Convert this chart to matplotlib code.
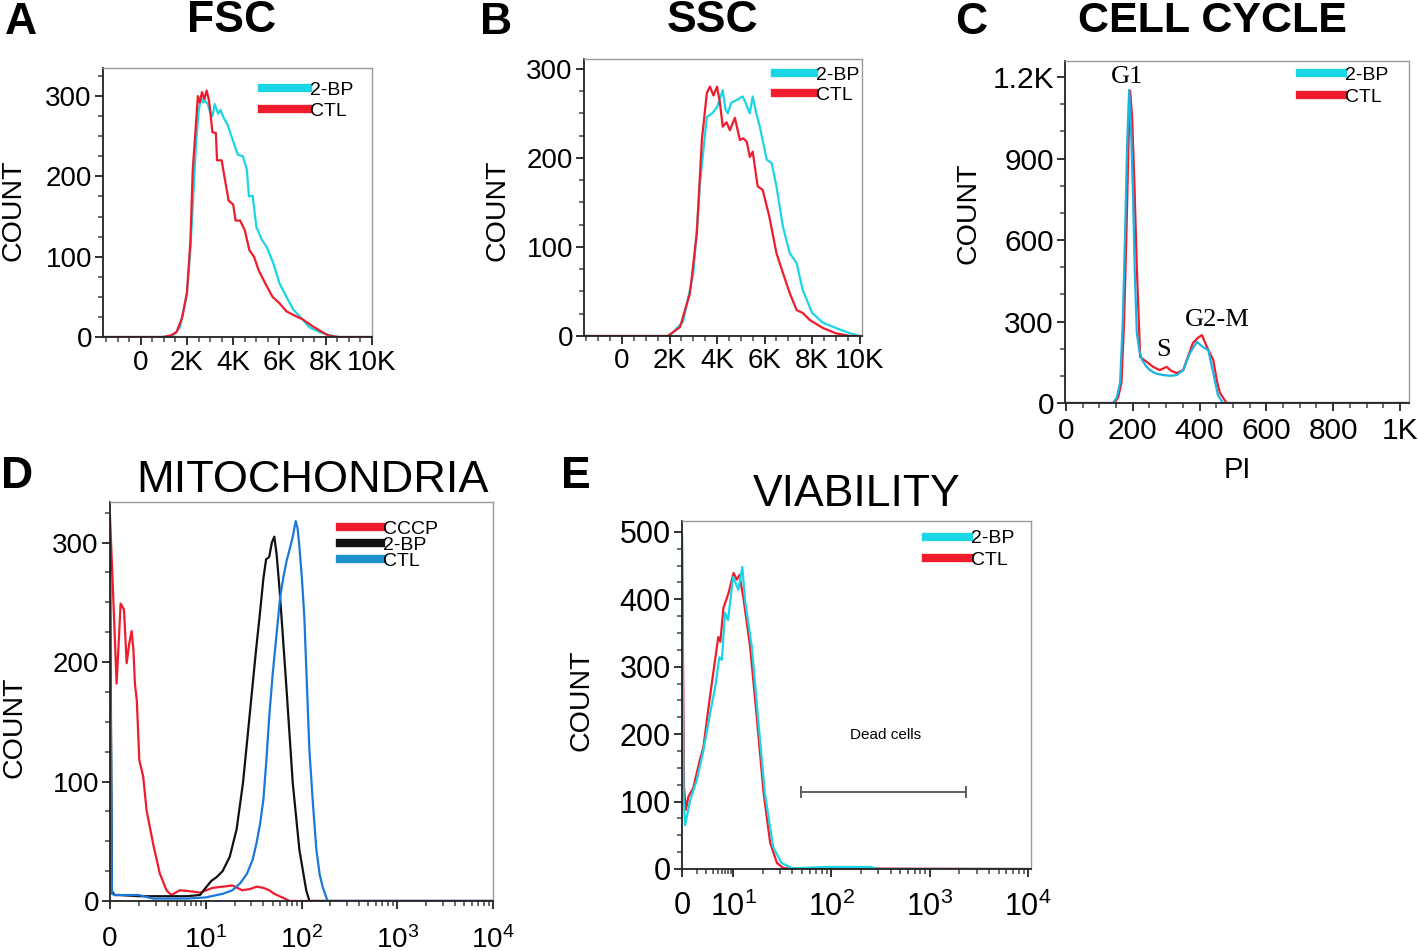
import numpy as np
import matplotlib
matplotlib.use('Agg')
import matplotlib.pyplot as plt
from matplotlib.ticker import AutoMinorLocator, FixedLocator

plt.rcParams['font.family'] = ['Liberation Sans', 'DejaVu Sans']
plt.rcParams['mathtext.fontset'] = 'custom'
plt.rcParams['mathtext.rm'] = 'Liberation Sans'
plt.rcParams['mathtext.it'] = 'Liberation Sans:italic'

# colours
CYAN = '#1ad6e4'
RED = '#ee1c2c'
BLUE = '#1c78d8'
BLACK = '#111111'

# ---- A: FSC (x in thousands) ----
fsc_x_bp = [-1.6, 1.0, 1.4, 1.7, 2.0, 2.15, 2.3, 2.4, 2.5, 2.6, 2.7, 2.8, 2.9, 3.0, 3.1, 3.2, 3.35,
            3.45, 3.6, 3.75, 3.98, 4.2, 4.42, 4.59, 4.68, 4.84, 5.0, 5.24, 5.45, 5.73, 6.0, 6.3,
            6.6, 6.9, 7.3, 7.75, 8.2, 8.6, 10.0]
fsc_bp = [0, 0, 2, 12, 55, 110, 190, 245, 280, 298, 292, 294, 290, 280, 275, 290, 278,
          283, 272, 265, 245, 227, 225, 208, 175, 176, 137, 121, 112, 92, 67, 50,
          34, 25, 12, 6, 2, 0, 0]
fsc_x_ctl = [-1.6, 0.95, 1.3, 1.55, 1.8, 2.0, 2.15, 2.25, 2.4, 2.47, 2.55, 2.65, 2.75, 2.85, 2.95,
             3.0, 3.1, 3.25, 3.3, 3.5, 3.6, 3.8, 4.0, 4.1, 4.3, 4.5, 4.7, 4.9, 5.1, 5.4, 5.7, 6.0,
             6.3, 6.7, 7.0, 7.4, 7.8, 8.1, 8.5, 10.0]
fsc_ctl = [0, 0, 2, 6, 25, 55, 120, 208, 270, 300, 292, 305, 296, 307, 295,
           283, 255, 254, 220, 220, 203, 170, 165, 145, 145, 133, 108, 100, 83, 66, 50, 42,
           32, 26, 22, 14, 7, 2, 0, 0]

# ---- B: SSC (x in thousands) ----
ssc_x_bp = [-1.6, 2.0, 2.57, 3.0, 3.15, 3.28, 3.45, 3.57, 3.8, 4.0, 4.24, 4.35, 4.45, 4.6, 4.83,
            5.08, 5.2, 5.38, 5.5, 5.65, 5.8, 6.09, 6.3, 6.5, 6.77, 7.06, 7.35, 7.6, 8.0, 8.45,
            9.0, 9.6, 10.0]
ssc_bp = [0, 0, 16, 70, 120, 171, 215, 246, 250, 257, 276, 255, 250, 262, 265,
          269, 262, 250, 269, 250, 235, 198, 194, 168, 123, 93, 82, 52, 26, 15,
          9, 3, 0]
ssc_x_ctl = [-1.6, 1.93, 2.44, 2.86, 3.15, 3.36, 3.57, 3.7, 3.85, 4.0, 4.12, 4.24, 4.4, 4.54,
             4.75, 4.96, 5.1, 5.25, 5.38, 5.5, 5.71, 5.92, 6.2, 6.5, 6.77, 7.06, 7.35, 7.6, 7.9,
             8.45, 9.0, 9.6, 10.0]
ssc_ctl = [0, 0, 10, 48, 116, 220, 273, 280, 270, 280, 262, 235, 240, 231,
           245, 220, 222, 218, 201, 207, 168, 164, 134, 93, 71, 48, 29, 26, 18,
           9, 3, 0, 0]

# ---- C: cell cycle (PI) ----
cc_x_bp = [0, 141, 152, 162, 170, 177, 183, 189, 195, 201, 206, 212, 220, 228, 240, 251, 270,
           291, 312, 332, 351, 371, 392, 410, 426, 441, 455, 470, 1030]
cc_bp = [0, 0, 20, 74, 300, 626, 950, 1152, 1000, 747, 480, 258, 190, 158, 135, 121, 108,
         103, 100, 103, 121, 184, 225, 206, 195, 110, 29, 0, 0]
cc_x_ctl = [0, 145, 156, 166, 174, 181, 187, 192, 198, 205, 212, 222, 232, 242, 261, 281, 301,
            316, 332, 351, 365, 380, 395, 407, 422, 441, 452, 461, 481, 1030]
cc_ctl = [0, 0, 20, 74, 300, 626, 950, 1150, 1050, 800, 500, 170, 160, 151, 133, 121, 133,
          118, 110, 121, 170, 221, 240, 250, 206, 158, 80, 37, 0, 0]

# ---- D: mitochondria (x raw, linear 0-10 then log) ----
mt_x_cccp = [0, 0.35, 0.69, 0.9, 1.11, 1.46, 1.74, 2.0, 2.26, 2.45, 2.6, 2.8, 3.06, 3.47, 3.82,
             4.5, 5.2, 5.9, 6.4, 7.3, 8.5, 9.4, 11.8, 15, 19, 24, 29, 34, 40, 46, 52, 59, 67,
             75, 90, 10000]
mt_cccp = [322, 252, 182, 215, 249, 244, 199, 215, 226, 210, 182, 168, 118, 104, 76,
           48, 23, 9, 5, 9, 8, 7, 11, 12, 13, 9, 10, 12, 11, 9, 6, 4, 2,
           0, 0, 0]
mt_x_bp = [0, 0.2, 0.5, 1, 3, 5, 8, 9.4, 10.2, 11.5, 13, 15, 17.8, 21, 24.5, 28.7, 33.5, 36.5,
           40, 42.7, 46, 49, 52, 55, 59, 69, 81, 95, 112, 121, 10000]
mt_bp = [300, 8, 5, 5, 4, 4, 4, 5, 12, 17, 20, 25, 37, 60, 99, 155, 210, 238,
         270, 286, 288, 300, 305, 290, 261, 183, 99, 43, 9, 0, 0]
mt_x_ctl = [0, 0.2, 0.5, 1, 3, 4.5, 6, 8, 10, 15, 19, 23, 27, 31, 34, 37, 40, 43, 46, 50, 55,
            60, 65, 70, 75, 81, 87, 91, 95, 101, 107, 114, 121, 132, 143, 155, 166, 187, 10000]
mt_ctl = [270, 6, 5, 5, 5, 2, 2, 2, 3, 6, 9, 15, 23, 35, 49, 65, 85, 118, 154, 190, 224,
          255, 272, 285, 294, 305, 318, 312, 297, 270, 238, 180, 126, 80, 43, 22, 12, 0, 0]

# ---- E: viability (x raw, linear 0-10 then log) ----
vb_x_ctl = [0, 0.4, 0.78, 1.24, 2.2, 3.5, 4.2, 5.2, 6.1, 7.1, 7.5, 8.1, 9.1, 10.1, 10.9, 11.6,
            12.8, 14.9, 17.5, 20.4, 23.8, 27.9, 32.6, 10500]
vb_ctl = [495, 120, 88, 107, 120, 162, 181, 240, 290, 344, 337, 387, 409, 439, 429, 436,
          399, 329, 221, 113, 39, 9, 1, 0]
vb_x_bp = [0, 0.3, 0.6, 1.6, 2.9, 4.2, 5.5, 6.5, 7.3, 7.8, 8.4, 9.0, 10.0, 11.3, 12.4, 13.2,
           15.5, 18, 21, 25.5, 31, 40, 90, 120, 250, 300, 10500]
vb_bp = [495, 110, 65, 102, 132, 176, 231, 270, 314, 310, 380, 369, 433, 414, 448, 399,
         329, 221, 113, 33, 9, 1, 3, 3, 3, 0, 0]
dead_gate_x = [49, 2330]
dead_gate_y = 114

dec_ticks = [0, 10, 100, 1000, 10000]
dec_labels = ['0', r'$\mathregular{10^1}$', r'$\mathregular{10^2}$',
              r'$\mathregular{10^3}$', r'$\mathregular{10^4}$']


def biex(w):
    # linear from 0 to 10 over width w (in decades), log above 10
    def fwd(x):
        x = np.asarray(x, dtype=float)
        return np.where(x < 10, w * x / 10, w + np.log10(np.maximum(x, 10) / 10))

    def inv(y):
        y = np.asarray(y, dtype=float)
        return np.where(y < w, y * 10 / w, 10 * 10 ** (y - w))
    return fwd, inv


fig = plt.figure(figsize=(14.18, 9.51), dpi=100)


def rect(l, t, r, b):
    return [l / 1418, 1 - b / 951, (r - l) / 1418, (b - t) / 951]


def style(ax, fs, xpad=4, ypad=2):
    for s in ['top', 'right']:
        ax.spines[s].set_color('#999999')
        ax.spines[s].set_linewidth(1.0)
    for s in ['left', 'bottom']:
        ax.spines[s].set_color('#222222')
        ax.spines[s].set_linewidth(1.3)
    ax.tick_params(which='major', direction='out', length=6, width=1.3, labelsize=fs, color='#222222')
    ax.tick_params(which='minor', direction='out', length=3.5, width=1.1, color='#444444')
    ax.tick_params(axis='x', pad=xpad)
    ax.tick_params(axis='y', pad=ypad)
    ax.tick_params(top=False, right=False)


def leg(ax, handles, labels, xa, ya, fs, hl, ls):
    lg = ax.legend(handles, labels, loc='upper left', bbox_to_anchor=(xa, ya), frameon=False,
                   fontsize=fs, handlelength=hl, handletextpad=0.1, labelspacing=ls,
                   borderpad=0, borderaxespad=0)
    for ln in lg.get_lines():
        ln.set_linewidth(6)
    return lg


def ftext(x, y, s, **kw):
    fig.text(x / 1418, 1 - y / 951, s, ha='center', va='center', **kw)


# ---- A ----
axA = fig.add_axes(rect(103, 68, 372, 337))
lb, = axA.plot(fsc_x_bp, fsc_bp, color=CYAN, lw=1.6)
lr, = axA.plot(fsc_x_ctl, fsc_ctl, color=RED, lw=1.6)
axA.set_xlim(-1.63, 10.0)
axA.set_ylim(0, 335)
axA.set_xticks([0, 2, 4, 6, 8, 10], ['0', '2K', '4K', '6K', '8K', '10K'])
axA.set_yticks([0, 100, 200, 300])
axA.xaxis.set_minor_locator(AutoMinorLocator(4))
axA.yaxis.set_minor_locator(AutoMinorLocator(4))
style(axA, 20, xpad=3)
leg(axA, [lb, lr], ['2-BP', 'CTL'], 0.59, 0.95, 14, 2.4, 0.15)

# ---- B ----
axB = fig.add_axes(rect(584, 59, 862, 336))
lb, = axB.plot(ssc_x_bp, ssc_bp, color=CYAN, lw=1.6)
lr, = axB.plot(ssc_x_ctl, ssc_ctl, color=RED, lw=1.6)
axB.set_xlim(-1.6, 10.1)
axB.set_ylim(0, 311)
axB.set_xticks([0, 2, 4, 6, 8, 10], ['0', '2K', '4K', '6K', '8K', '10K'])
axB.set_yticks([0, 100, 200, 300])
axB.xaxis.set_minor_locator(AutoMinorLocator(4))
axB.yaxis.set_minor_locator(AutoMinorLocator(4))
style(axB, 20, xpad=3)
leg(axB, [lb, lr], ['2-BP', 'CTL'], 0.687, 0.975, 14, 2.0, 0.15)

# ---- C ----
axC = fig.add_axes(rect(1065, 61, 1409, 403))
lr, = axC.plot(cc_x_ctl, cc_ctl, color=RED, lw=1.6)
lb, = axC.plot(cc_x_bp, cc_bp, color='#18b4e4', lw=1.6)
axC.set_xlim(-3, 1027)
axC.set_ylim(0, 1259)
axC.set_xticks([0, 200, 400, 600, 800, 1000], ['0', '200', '400', '600', '800', '1K'])
axC.set_yticks([0, 300, 600, 900, 1200], ['0', '300', '600', '900', '1.2K'])
axC.xaxis.set_minor_locator(AutoMinorLocator(4))
axC.yaxis.set_minor_locator(AutoMinorLocator(3))
style(axC, 21.5)
leg(axC, [lb, lr], ['2-BP', 'CTL'], 0.683, 0.985, 14, 2.2, 0.25)
lg = axC.get_legend()
lg.get_lines()[0].set_color(CYAN)
axC.text(183, 1200, 'G1', family='Liberation Serif', fontsize=19, ha='center', va='center')
axC.text(291, 195, 'S', family='Liberation Serif', fontsize=19, ha='center', va='center')
axC.text(452, 305, 'G2-M', family='Liberation Serif', fontsize=19, ha='center', va='center')
axC.set_xlabel('PI', fontsize=21, labelpad=8)

# ---- D ----
axD = fig.add_axes(rect(110, 502, 493, 901))
f, i = biex(1.0)
axD.set_xscale('function', functions=(f, i))
lc, = axD.plot(mt_x_cccp, mt_cccp, color=RED, lw=1.6)
lk, = axD.plot(mt_x_bp, mt_bp, color=BLACK, lw=1.6)
lt, = axD.plot(mt_x_ctl, mt_ctl, color=BLUE, lw=1.6)
axD.set_xlim(0, 10000)
axD.set_ylim(0, 334)
axD.set_xticks(dec_ticks, dec_labels)
minors = [10 * np.log10(k) for k in range(2, 10)] + [k * 10 ** n for n in (1, 2, 3) for k in range(2, 10)]
axD.xaxis.set_minor_locator(FixedLocator(minors))
axD.set_yticks([0, 100, 200, 300])
axD.yaxis.set_minor_locator(AutoMinorLocator(4))
style(axD, 20, xpad=12)
lg = leg(axD, [lc, lk, lt], ['CCCP', '2-BP', 'CTL'], 0.60, 0.955, 14, 2.1, -0.08)
lg.get_lines()[2].set_color('#1e8fc8')

# ---- E ----
axE = fig.add_axes(rect(682, 521, 1031, 869))
f, i = biex(0.52)
axE.set_xscale('function', functions=(f, i))
lr, = axE.plot(vb_x_ctl, vb_ctl, color=RED, lw=1.6)
lb, = axE.plot(vb_x_bp, vb_bp, color=CYAN, lw=1.6)
axE.set_xlim(0, 10700)
axE.set_ylim(0, 516)
axE.set_xticks(dec_ticks, dec_labels)
axE.xaxis.set_minor_locator(FixedLocator(minors))
axE.set_yticks([0, 100, 200, 300, 400, 500])
axE.yaxis.set_minor_locator(AutoMinorLocator(4))
style(axE, 22, xpad=10)
leg(axE, [lb, lr], ['2-BP', 'CTL'], 0.70, 0.975, 14, 2.2, 0.2)
axE.plot(dead_gate_x, [dead_gate_y, dead_gate_y], color='#555555', lw=1.3)
axE.plot(dead_gate_x, [dead_gate_y, dead_gate_y], ls='none', marker='|', ms=9, mew=1.3, color='#555555')
axE.text(np.sqrt(dead_gate_x[0] * dead_gate_x[1]) * 1.05, 199, 'Dead cells', fontsize=11,
         ha='center', va='center')

# ---- titles, panel letters, y labels ----
ftext(232, 21, 'FSC', fontsize=32, fontweight='bold')
ftext(712, 21, 'SSC', fontsize=32, fontweight='bold')
ftext(1212, 21, 'CELL CYCLE', fontsize=31, fontweight='bold')
ftext(312, 480, 'MITOCHONDRIA', fontsize=32.5)
ftext(857, 495, 'VIABILITY', fontsize=32)

for s, x, y in [('A', 21, 22), ('B', 496, 22), ('C', 971, 22), ('D', 17, 477), ('E', 576, 476)]:
    ftext(x, y, s, fontsize=32, fontweight='bold')

for x, y in [(14, 210), (497, 210), (968, 213), (15, 727), (582, 700)]:
    ftext(x, y, 'COUNT', fontsize=20.5, rotation=90)

fig.savefig('out.png', dpi=100)
